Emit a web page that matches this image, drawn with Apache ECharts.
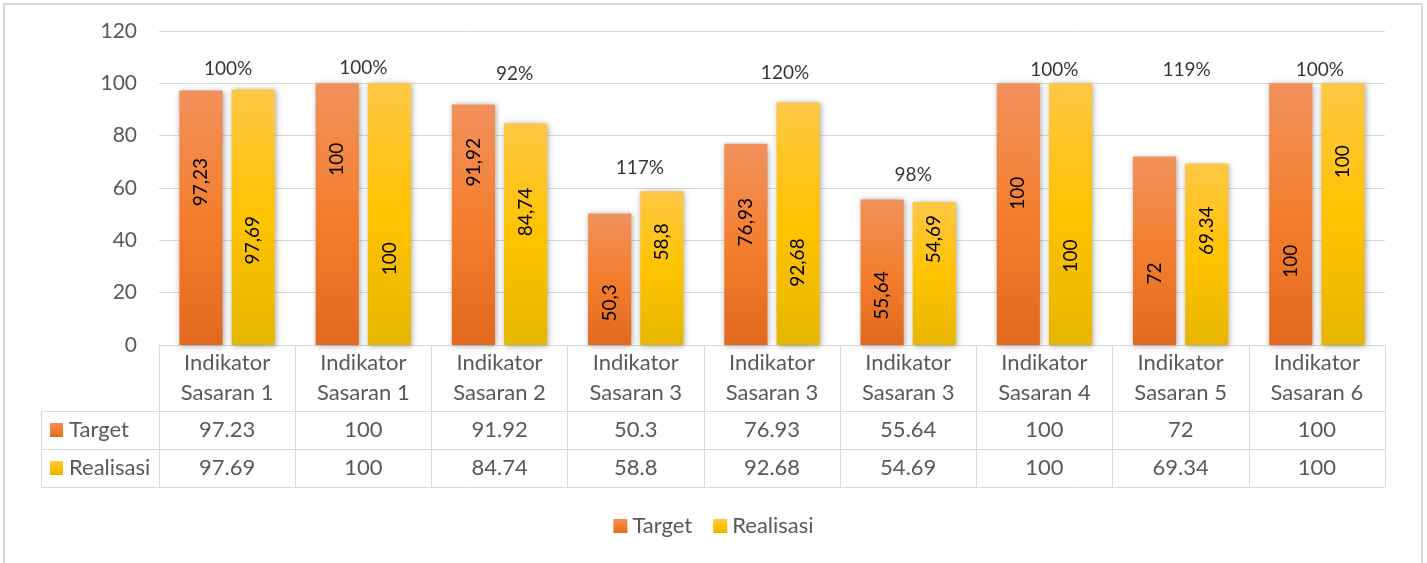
<!DOCTYPE html>
<html>
<head>
<meta charset="utf-8">
<script src="https://cdn.jsdelivr.net/npm/echarts@6/dist/echarts.min.js"></script>
<style>
  html, body { margin: 0; padding: 0; background: #fff; }
  #chart { width: 1427px; height: 563px; }
</style>
</head>
<body>
<div id="chart"></div>
<script>
// data
const categories = [
  'Indikator Sasaran 1', 'Indikator Sasaran 1', 'Indikator Sasaran 2',
  'Indikator Sasaran 3', 'Indikator Sasaran 3', 'Indikator Sasaran 3',
  'Indikator Sasaran 4', 'Indikator Sasaran 5', 'Indikator Sasaran 6'
]
const target = [97.23, 100, 91.92, 50.3, 76.93, 55.64, 100, 72, 100]
const realisasi = [97.69, 100, 84.74, 58.8, 92.68, 54.69, 100, 69.34, 100]
// labels as typed in the bars (one uses a dot)
const targetText = ['97,23', '100', '91,92', '50,3', '76,93', '55,64', '100', '72', '100']
const realisasiText = ['97,69', '100', '84,74', '58,8', '92,68', '54,69', '100', '69.34', '100']
// achievement labels and the height (in axis units) they sit at
const pctText = ['100%', '100%', '92%', '117%', '120%', '98%', '100%', '119%', '100%']
const pctLevel = [105.5, 105.8, 103.6, 67.6, 103.9, 65.0, 105.1, 105.1, 105.1]
const yMin = 0
const yMax = 120
const yStep = 20

// style: where the value label sits inside each bar (fraction from top), label nudges
const targetLabelAt = [0.36, 0.29, 0.24, 0.68, 0.39, 0.66, 0.42, 0.62, 0.68]
const realisasiLabelAt = [0.59, 0.67, 0.40, 0.33, 0.66, 0.26, 0.66, 0.37, 0.30]
const pctShiftX = [1, 0, 15, 4, 13, 5, 10, 6, 3]

const FONT = 'Lato, "Open Sans", sans-serif'
const GREY = '#595959'
const LINE = '#d9d9d9'

// layout
const W = 1427, H = 563
const GRID_L = 159, GRID_R = 42, GRID_T = 31, AXIS_Y = 345
const ROW1 = 411, ROW2 = 449, ROW3 = 487
const TABLE_L = 41

const orange = () => new echarts.graphic.LinearGradient(0, 0, 0, 1, [
  { offset: 0, color: '#F1915B' },
  { offset: 0.5, color: '#F47E2E' },
  { offset: 1, color: '#E2691D' }
])
const gold = () => new echarts.graphic.LinearGradient(0, 0, 0, 1, [
  { offset: 0, color: '#FFC745' },
  { offset: 0.5, color: '#FFC300' },
  { offset: 1, color: '#E7B600' }
])

const barItems = (vals, texts, at) => vals.map((v, i) => ({
  value: v,
  label: {
    position: ['50%', (at[i] * 100) + '%'],
    formatter: texts[i]
  }
}))

const barLabel = {
  show: true,
  rotate: 90,
  align: 'center',
  verticalAlign: 'middle',
  fontFamily: FONT,
  fontSize: 19,
  color: '#000'
}

const shadow = {
  shadowBlur: 6,
  shadowColor: 'rgba(0,0,0,0.35)',
  shadowOffsetX: 1,
  shadowOffsetY: 1
}

const tableAxis = (offset, vals) => ({
  type: 'category',
  data: categories,
  position: 'bottom',
  offset: offset,
  axisLine: { show: true, lineStyle: { color: LINE, width: 1 } },
  axisTick: { show: false },
  splitLine: { show: false },
  axisLabel: {
    show: !!vals,
    interval: 0,
    margin: 9,
    fontFamily: FONT,
    fontSize: 22,
    lineHeight: 20,
    color: GREY,
    formatter: (v, i) => vals ? String(vals[i]) : ''
  }
})

const chart = echarts.init(document.getElementById('chart'), null, { renderer: 'canvas' })

const option = {
  animation: false,
  backgroundColor: '#fff',
  grid: {
    left: GRID_L, right: GRID_R, top: GRID_T, bottom: H - AXIS_Y,
    containLabel: false,
    outerBoundsMode: 'none'
  },
  legend: {
    data: ['Target', 'Realisasi'],
    bottom: 21,
    left: 'center',
    icon: 'rect',
    itemWidth: 14,
    itemHeight: 14,
    itemGap: 21,
    textStyle: { fontFamily: FONT, fontSize: 22, color: GREY }
  },
  xAxis: [
    {
      type: 'category',
      data: categories,
      axisLine: { show: true, lineStyle: { color: LINE, width: 1 } },
      axisTick: { show: true, interval: 0, length: ROW3 - AXIS_Y, lineStyle: { color: LINE } },
      axisLabel: {
        interval: 0,
        margin: 3,
        fontFamily: FONT,
        fontSize: 22,
        lineHeight: 30,
        color: GREY,
        formatter: v => v.replace(' ', '\n')
      },
      splitLine: { show: false }
    },
    tableAxis(ROW1 - AXIS_Y, target),
    tableAxis(ROW2 - AXIS_Y, realisasi),
    tableAxis(ROW3 - AXIS_Y, null)
  ],
  yAxis: {
    type: 'value',
    min: yMin,
    max: yMax,
    interval: yStep,
    axisLine: { show: false },
    axisTick: { show: false },
    splitLine: { lineStyle: { color: LINE, width: 1 } },
    axisLabel: { margin: 22, fontFamily: FONT, fontSize: 21, color: GREY }
  },
  series: [
    {
      name: 'Target',
      type: 'bar',
      barCategoryGap: '30%',
      barGap: '21%',
      data: barItems(target, targetText, targetLabelAt),
      itemStyle: Object.assign({ color: orange() }, shadow),
      label: barLabel
    },
    {
      name: 'Realisasi',
      type: 'bar',
      data: barItems(realisasi, realisasiText, realisasiLabelAt),
      itemStyle: Object.assign({ color: gold() }, shadow),
      label: barLabel
    },
    {
      name: 'pct',
      type: 'scatter',
      symbolSize: 0,
      silent: true,
      z: 5,
      data: pctLevel.map((v, i) => ({
        value: v,
        label: { formatter: pctText[i], offset: [pctShiftX[i], 0] }
      })),
      label: {
        show: true,
        position: 'inside',
        fontFamily: FONT,
        fontSize: 19,
        color: '#000'
      }
    }
  ],
  graphic: [
    // outer chart border
    {
      type: 'rect', silent: true,
      shape: { x: 4, y: 4, width: W - 8 - 1, height: H + 20 },
      style: { fill: 'none', stroke: LINE, lineWidth: 2 }
    },
    // left column of the data table
    {
      type: 'rect', silent: true,
      shape: { x: TABLE_L + 0.5, y: ROW1 + 0.5, width: GRID_L - TABLE_L, height: ROW3 - ROW1 },
      style: { fill: 'none', stroke: LINE, lineWidth: 1 }
    },
    {
      type: 'line', silent: true,
      shape: { x1: TABLE_L, y1: ROW2 + 0.5, x2: GRID_L, y2: ROW2 + 0.5 },
      style: { stroke: LINE, lineWidth: 1 }
    },
    {
      type: 'rect', silent: true,
      shape: { x: TABLE_L + 9, y: ROW1 + 12, width: 13, height: 14 },
      style: { fill: orange() }
    },
    {
      type: 'text', silent: true,
      x: TABLE_L + 28, y: (ROW1 + ROW2) / 2,
      style: { text: 'Target', font: '22px ' + FONT, fill: GREY, verticalAlign: 'middle' }
    },
    {
      type: 'rect', silent: true,
      shape: { x: TABLE_L + 9, y: ROW2 + 12, width: 13, height: 14 },
      style: { fill: gold() }
    },
    {
      type: 'text', silent: true,
      x: TABLE_L + 28, y: (ROW2 + ROW3) / 2,
      style: { text: 'Realisasi', font: '22px ' + FONT, fill: GREY, verticalAlign: 'middle' }
    }
  ]
}

chart.setOption(option)
</script>
</body>
</html>
